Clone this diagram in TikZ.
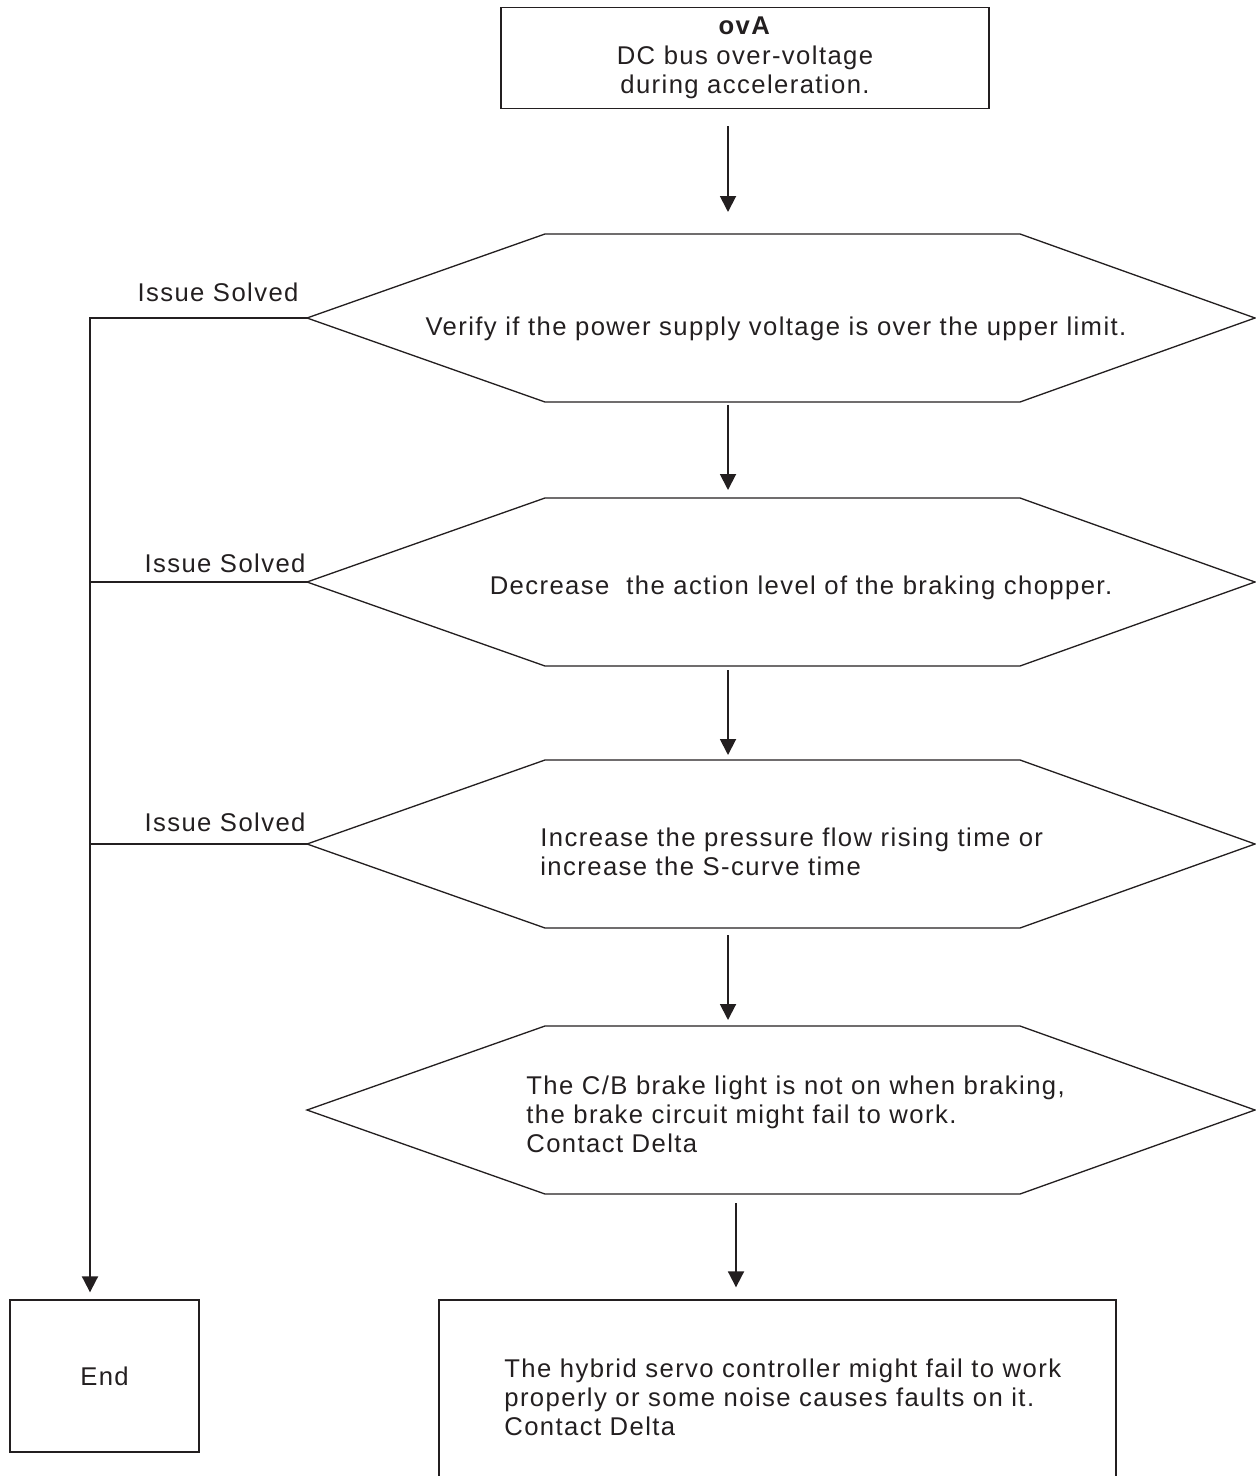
\documentclass[tikz,border=0pt]{standalone}
\usepackage{fontspec}
\setmainfont{Liberation Sans}[LetterSpace=5.5]
\usepackage{tikz}
\usetikzlibrary{arrows.meta, positioning, calc}
\definecolor{chartInk}{HTML}{231F20}

\begin{document}
\begin{tikzpicture}[
    x=0.02cm, y=-0.02cm,
    every node/.style={text=chartInk, font=\fontsize{14.6}{16.6}\selectfont},
    frame/.style={draw=chartInk, line width=0.8pt, inner sep=0pt},
    hexline/.style={draw=chartInk, line width=0.75pt, line join=miter},
    flow/.style={draw=chartInk, line width=1.1pt, -{Triangle[length=0.32cm, width=0.32cm]}},
    branch/.style={draw=chartInk, line width=0.75pt},
    note/.style={align=left, inner sep=0pt},
    solved/.style={inner sep=0pt}
]
    \useasboundingbox (0,0) rectangle (1256,1476);

    % fault box
    \node[frame, minimum width=9.76cm, minimum height=2.02cm, align=center] (fault) at (745,58)
        {\textbf{ovA}\\DC bus over-voltage\\during acceleration.};

    % the four check hexagons
    \foreach \nm/\cy in {verify/318, chopper/582, srise/844, brake/1110} {
        \draw[hexline] (307,\cy) coordinate (\nm-w) -- (545,\cy-84) -- (1020,\cy-84) -- (1255,\cy)
            -- (1020,\cy+84) -- (545,\cy+84) -- cycle;
        \coordinate (\nm-n) at (728,\cy-84);
        \coordinate (\nm-s) at (728,\cy+84);
    }
    \node (verifyText) at (776,329) {Verify if the power supply voltage is over the upper limit.};
    \node (chopperText) at (801,588) {Decrease\ \ the action level of the braking chopper.};
    \node[note, anchor=west] (sriseText) at (540,852)
        {Increase the pressure flow rising time or\\increase the S-curve time};
    \node[note, anchor=west] (brakeText) at (526,1114)
        {The C/B brake light is not on when braking,\\the brake circuit might fail to work.\\Contact Delta};

    % end boxes
    \node[frame, minimum width=3.78cm, minimum height=3.04cm] (finish) at (104.5,1376) {End};
    \node[frame, minimum width=13.54cm, minimum height=3.84cm] (ctrl) at (777.5,1396) {};
    \node[note, anchor=west] (ctrlText) at (504,1397)
        {The hybrid servo controller might fail to work\\properly or some noise causes faults on it.\\Contact Delta};

    % main flow
    \draw[flow, shorten <=0.34cm, shorten >=0.44cm] (fault.south -| verify-n) -- (verify-n);
    \draw[flow, shorten <=0.06cm, shorten >=0.16cm] (verify-s) -- (chopper-n);
    \draw[flow, shorten <=0.08cm, shorten >=0.1cm] (chopper-s) -- (srise-n);
    \draw[flow, shorten <=0.14cm, shorten >=0.12cm] (srise-s) -- (brake-n);
    \draw[flow, shorten <=0.18cm, shorten >=0.24cm] ([xshift=0.16cm]brake-s) -- ([xshift=0.16cm]brake-s |- ctrl.north);

    % issue solved rail
    \coordinate (rail) at (90,318);
    \draw[flow, shorten >=0.14cm] (verify-w) -| (finish.north -| rail);
    \draw[branch] (chopper-w) -- (chopper-w -| rail);
    \draw[branch] (srise-w) -- (srise-w -| rail);
    \node[solved] (solvedA) at (218,292) {Issue Solved};
    \node[solved] (solvedB) at (225,563) {Issue Solved};
    \node[solved] (solvedC) at (225,822) {Issue Solved};
\end{tikzpicture}
\end{document}
